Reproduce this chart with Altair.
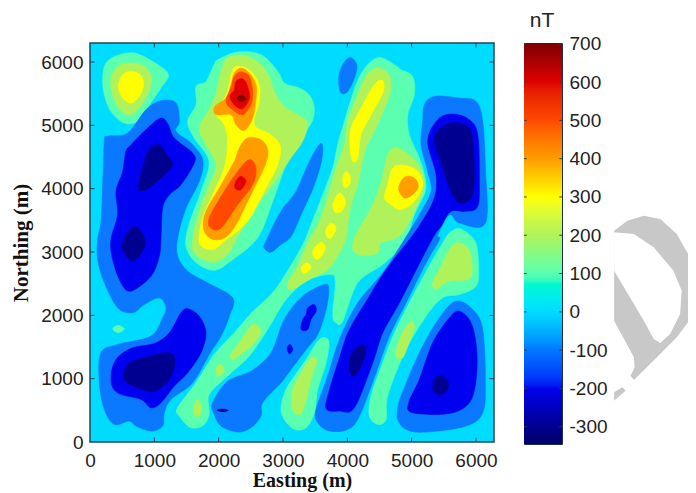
import altair as alt
import pandas as pd
import numpy as np

levels = [-300, -200, -100, 0, 100, 200, 300, 400, 500, 600, 700]
colors = ["#000090", "#0000f0", "#0a78ff", "#00dcff", "#5affb0", "#b0f25a",
          "#ffff00", "#ff9c00", "#ff4800", "#e00000", "#800000"]
x_ticks = [0, 1000, 2000, 3000, 4000, 5000, 6000]
y_ticks = [0, 1000, 2000, 3000, 4000, 5000, 6000]
bar_ticks = [-300, -200, -100, 0, 100, 200, 300, 400, 500, 600, 700]

# +100 nT contours
g_topleft = [(197,5746),(248,5983),(430,6104),(689,6141),(974,6009),(1217,5809),(1103,5588),(870,5246),(741,5062),(533,5036),(326,5220),(223,5483)]
g_central = [(1986,6035),(2297,6157),(2659,6114),(2919,5851),(3021,5668),(3255,5589),(3405,5483),(3483,5299),(3452,5062),(3250,4747),(3048,4379),(2841,3801),(2608,3228),(2219,2881),(1933,2712),(1648,2834),(1493,3091),(1539,3433),(1726,3958),(1850,4431),(1617,4805),(1519,5062),(1648,5325),(1648,5614),(1804,5693),(1928,5956)]
g_ridge = [(4291,5930),(4498,6072),(4732,5957),(4835,5878),(5016,5773),(5042,5483),(4939,5168),(4965,4852),(5120,4484),(5198,4221),(5213,3958),(5042,3590),(4887,3143),(4550,2802),(4162,2513),(3929,1908),(3825,1882),(3773,2014),(3815,2539),(3721,2645),(3359,2540),(3048,2250),(2761,1777),(2476,1356),(2139,1040),(1854,751),(1854,462),(1777,278),(1569,225),(1388,409),(1362,541),(1647,935),(1932,1382),(2243,1724),(2502,2029),(2813,2329),(3020,2618),(3307,3116),(3436,3432),(3618,3905),(3773,4326),(3851,4694),(3955,5062),(4136,5641)]
g_lobe = [(3566,1619),(3711,1593),(3670,1251),(3540,830),(3488,462),(3359,225),(3178,199),(3020,357),(2968,541),(3046,830),(3178,1040),(3359,1303)]
g_right = [(5483,3143),(5586,3300),(5742,3369),(5923,3248),(6011,3092),(6042,2724),(6001,2461),(5742,2329),(5483,2276),(5224,1987),(4887,1409),(4628,725),(4602,357),(4472,278),(4343,409),(4369,725),(4550,1251),(4732,1724),(4990,2250),(5301,2829)]
g_dot = [(352,1787),(440,1840),(533,1787),(440,1724)]

# +200 nT contours
yg_topleft = [(326,5746),(430,5930),(637,5983),(844,5930),(958,5746),(896,5483),(741,5246),(585,5168),(430,5299),(337,5536)]
yg_central = [(2139,6062),(2398,6104),(2631,5983),(2787,5773),(2864,5536),(3020,5299),(3227,5168),(3382,5036),(3305,4747),(3123,4484),(2916,4168),(2528,3642),(2269,3195),(2139,2960),(1906,2839),(1647,2960),(1595,3171),(1699,3642),(1854,4063),(1958,4379),(1803,4694),(1699,4957),(1854,5246),(1958,5510),(2036,5851)]
yg_ridge = [(4291,5772),(4447,5904),(4628,5825),(4680,5615),(4602,5325),(4421,4905),(4291,4642),(4214,4326),(4162,4063),(4058,3747),(4006,3432),(3955,3143),(3721,2750),(3411,2566),(3126,2408),(3074,2513),(3229,2776),(3385,3144),(3566,3484),(3721,3958),(3825,4326),(3955,4694),(4006,5062),(4162,5483)]
yg_blob = [(4732,4642),(4887,4589),(5120,4352),(5198,4063),(5094,3747),(4835,3274),(4524,3144),(4473,2987),(4239,2945),(4084,3039),(4136,3274),(4343,3642),(4498,4010),(4576,4326),(4628,4536)]
yg_low1 = [(2191,1382),(2321,1566),(2528,1856),(2657,1750),(2554,1566),(2346,1382),(2217,1303)]
yg_low2 = [(1958,1172),(2036,1224),(2087,1119),(1984,1040)]
yg_low3 = [(1621,567),(1673,672),(1735,541),(1699,409),(1621,435)]
yg_lobe = [(3436,1330),(3525,1277),(3436,988),(3317,514),(3229,435),(3141,541),(3152,830),(3281,1093)]
yg_right = [(5690,3144),(5871,3065),(5938,2829),(5897,2576),(5586,2540),(5379,2419),(5327,2513),(5431,2724),(5560,2987)]
yg_mid = [(4965,1882),(5042,1819),(4939,1514),(4861,1330),(4757,1356),(4809,1619)]

# +300 nT contours
y_topleft = [(440,5615),(508,5799),(637,5851),(782,5799),(834,5641),(766,5457),(637,5352),(508,5431)]
y_central = [(2217,5878),(2346,5930),(2502,5851),(2631,5641),(2631,5378),(2554,5010),(2813,4852),(2958,4668),(2916,4379),(2735,4010),(2450,3484),(2087,3171),(1906,3039),(1699,3144),(1751,3537),(1906,3905),(2087,4326),(2139,4747),(2087,5010),(1942,5194),(2036,5352),(2139,5536)]
y_blob = [(4706,4326),(4887,4368),(5094,4273),(5172,4063),(5042,3800),(4835,3669),(4680,3747),(4576,3853),(4628,4063)]
y_strip = [(4472,5694),(4560,5694),(4550,5510),(4369,5168),(4214,4852),(4162,4484),(4084,4431),(4043,4642),(4058,4957),(4214,5273),(4369,5562)]
y_s1 = [(3929,4168),(3980,4273),(4043,4194),(4032,4063),(3955,4021)]
y_s2 = [(3773,3747),(3877,3932),(3970,3800),(3929,3669),(3825,3616)]
y_s3 = [(3670,3353),(3747,3458),(3825,3379),(3747,3221),(3680,3248)]
y_s4 = [(3462,3013),(3592,3155),(3659,3065),(3592,2934),(3514,2881)]
y_s5 = [(3281,2750),(3369,2829),(3436,2750),(3333,2660)]

# +400 and above
o_upper = [(2243,5825),(2346,5904),(2476,5825),(2580,5641),(2580,5404),(2528,5115),(2398,4920),(2269,5010),(2191,5168),(1958,5168),(1942,5299),(2113,5431),(2191,5641)]
o_lower = [(2450,4799),(2657,4773),(2761,4615),(2735,4405),(2605,4116),(2424,3747),(2269,3432),(2087,3221),(1880,3211),(1761,3379),(1803,3642),(2010,4010),(2243,4431),(2321,4642)]
o_blob = [(4913,4194),(5042,4168),(5104,4037),(5016,3905),(4887,3853),(4799,3984),(4835,4116)]
or_upper = [(2243,5773),(2346,5841),(2476,5773),(2528,5536),(2502,5325),(2372,5168),(2217,5246),(2113,5378),(2191,5588)]
or_lower = [(2476,4458),(2580,4326),(2528,4063),(2295,3747),(2036,3379),(1880,3379),(1854,3537),(2087,3958),(2295,4273)]
r_upper = [(2269,5694),(2372,5736),(2440,5641),(2476,5431),(2372,5262),(2243,5325),(2175,5457),(2243,5562)]
r_lower = [(2346,4195),(2424,4116),(2346,3984),(2253,4010),(2269,4116)]
dr_upper = [(2284,5431),(2357,5483),(2424,5420),(2346,5378)]

# -100 nT contours
d_left = [(223,4747),(274,4826),(585,4878),(870,5246),(1103,5388),(1336,5352),(1388,5062),(1336,4905),(1569,4720),(1751,4458),(1699,4116),(1492,3695),(1362,3221),(1362,2934),(1518,2697),(1828,2513),(2217,2276),(2165,1987),(2036,1672),(1854,1382),(1595,935),(1259,672),(1155,462),(1129,251),(948,172),(715,251),(611,330),(378,278),(223,514),(145,935),(171,1409),(430,1540),(948,1672),(1129,1961),(1181,2119),(1077,2276),(844,2171),(663,2040),(430,2119),(223,2513),(119,2881),(119,3197),(171,3484),(197,4063)]
d_top = [(3903,5904),(4032,6072),(4146,5957),(4110,5746),(4006,5536),(3903,5510),(3866,5694)]
d_strip = [(3592,4720),(3607,4484),(3488,4063),(3281,3590),(3126,3248),(2968,3118),(2813,2997),(2709,3065),(2735,3171),(2968,3642),(3203,3958),(3411,4431)]
d_low = [(3644,2487),(3711,2408),(3670,2092),(3540,1698),(3359,1461),(3048,1040),(2968,935),(2683,620),(2657,409),(2502,225),(2295,157),(2036,251),(1922,462),(1906,620),(2139,961),(2502,1119),(2813,1409),(3020,1935),(3307,2303)]
d_right = [(5198,5325),(5353,5457),(5742,5431),(6001,5378),(6104,5062),(6146,4326),(6146,3458),(5742,3458),(5586,3590),(5405,3274),(5431,3197),(5224,2829),(4913,2198),(4654,1672),(4447,1093),(4188,409),(4006,199),(3721,173),(3540,304),(3514,514),(3695,1040),(3877,1619),(4162,2198),(4550,2671),(4887,3197),(5120,3590),(5301,3958),(5250,4273),(5146,4694),(5172,5062)]
d_lowright = [(4783,514),(4835,725),(5120,1409),(5431,1961),(5690,2224),(5949,2092),(6104,1777),(6146,935),(6104,462),(5845,251),(5224,157),(4913,199),(4783,357)]

# -200 nT contours
b_upper = [(637,4694),(896,4957),(1103,5115),(1217,5010),(1310,4799),(1595,4563),(1621,4405),(1414,4063),(1233,3905),(1129,3695),(1103,3221),(1077,2934),(948,2618),(637,2382),(482,2513),(352,2881),(326,3197),(430,3590),(404,3958),(508,4273),(559,4589)]
b_lower = [(1518,2103),(1699,1987),(1803,1724),(1725,1409),(1518,1093),(1310,883),(1103,620),(948,541),(792,672),(430,777),(326,988),(404,1303),(663,1487),(1000,1556),(1233,1724),(1414,2040)]
b_right = [(5250,4747),(5405,5089),(5638,5178),(5897,5089),(6027,4852),(6052,4168),(6027,3721),(5845,3642),(5612,3642),(5457,3405),(5301,3171),(4809,2198),(4550,1724),(4395,1251),(4110,541),(3877,488),(3680,514),(3695,725),(3903,1409),(4032,1777),(4343,2303),(4602,2724),(4965,3197),(5146,3458),(5353,3853),(5379,4221)]
b_lowright = [(4954,620),(5120,988),(5327,1566),(5586,1961),(5742,2066),(5923,1882),(6011,1461),(6001,988),(5897,620),(5586,451),(5016,462)]
b_spot1 = [(3385,2119),(3488,2171),(3514,2066),(3436,1935),(3385,1777),(3281,1777),(3307,1935),(3359,2014)]
b_spot2 = [(3064,1487),(3110,1540),(3152,1461),(3100,1393)]

# -300 nT contours
n_up1 = [(922,4615),(1077,4694),(1196,4536),(1285,4379),(1103,4168),(870,3984),(751,4010),(818,4326)]
n_up2 = [(689,3406),(834,3248),(844,3065),(663,2855),(508,3039),(533,3221)]
n_low = [(585,1225),(844,1330),(1207,1409),(1321,1277),(1233,988),(1000,804),(741,856),(533,988)]
n_right = [(5353,4799),(5534,5010),(5793,5020),(5938,4852),(5975,4168),(5923,3853),(5742,3774),(5612,3958),(5483,4326)]
n_strip = [(4188,1524),(4291,1487),(4239,1251),(4110,1040),(4032,1146),(4058,1382)]
n_lr = [(5353,988),(5457,1051),(5560,961),(5560,830),(5457,751),(5338,804)]
n_dash = [(1973,504),(2062,520),(2150,499),(2062,478)]

contours = [
    (100, g_topleft), (100, g_central), (100, g_ridge), (100, g_lobe), (100, g_right), (100, g_dot),
    (-100, d_left), (-100, d_top), (-100, d_strip), (-100, d_low), (-100, d_right), (-100, d_lowright),
    (200, yg_topleft), (200, yg_central), (200, yg_ridge), (200, yg_blob), (200, yg_low1), (200, yg_low2),
    (200, yg_low3), (200, yg_lobe), (200, yg_right), (200, yg_mid),
    (-200, b_upper), (-200, b_lower), (-200, b_right), (-200, b_lowright), (-200, b_spot1), (-200, b_spot2),
    (300, y_topleft), (300, y_central), (300, y_blob), (300, y_strip), (300, y_s1), (300, y_s2), (300, y_s3),
    (300, y_s4), (300, y_s5),
    (-300, n_up1), (-300, n_up2), (-300, n_low), (-300, n_right), (-300, n_strip), (-300, n_lr), (-300, n_dash),
    (400, o_upper), (400, o_lower), (400, o_blob),
    (500, or_upper), (500, or_lower),
    (600, r_upper), (600, r_lower),
    (700, dr_upper),
]

# watermark outlines
wm_outer = [(310,680),(350,650),(400,635),(450,645),(500,690),(540,760),(558,850),(545,940),(500,1000),(440,1060),(370,1128),(360,1115),(372,1090),(370,1060),(310,950)]
wm_hole = [(310,685),(370,690),(430,730),(490,800),(515,860),(510,930),(480,990),(450,1017),(430,1005),(400,950),(310,800)]
wm_frag = [(310,1165),(335,1150),(345,1160),(310,1190)]
watermark = [("#c8c8c8", wm_outer), ("#ffffff", wm_hole), ("#c8c8c8", wm_frag)]

rows = []
for pid, (lev, pts) in enumerate(contours):
    for i, (e, n) in enumerate(pts):
        rows.append({"poly": pid, "vertex": i, "level": lev, "e": e, "n": n})
df = pd.DataFrame(rows)

XMAX, YMAX = 6280, 6300
x_scale = alt.Scale(domain=[0, XMAX], nice=False, zero=False)
y_scale = alt.Scale(domain=[0, YMAX], nice=False, zero=False)
level_scale = alt.Scale(domain=levels, range=colors)
plain = "'' + datum.value"

base_map = alt.Chart(df).mark_line(interpolate="cardinal-closed", strokeWidth=0.6, clip=True).encode(
    x=alt.X("e:Q", scale=x_scale,
            axis=alt.Axis(values=x_ticks, title="Easting (m)", ticks=False, domain=False, grid=False,
                          labelExpr=plain, labelFlush=False,
                          labelFont="Liberation Sans", labelFontSize=19, labelColor="#222222", labelPadding=9,
                          titleFont="Liberation Serif", titleFontSize=20, titleFontWeight="bold",
                          titleColor="#111111", titlePadding=0, titleX=212)),
    y=alt.Y("n:Q", scale=y_scale,
            axis=alt.Axis(values=y_ticks, title="Northing (m)", ticks=False, domain=False, grid=False,
                          labelExpr=plain, labelFlush=False,
                          labelFont="Liberation Sans", labelFontSize=19, labelColor="#222222", labelPadding=7,
                          titleFont="Liberation Serif", titleFontSize=21, titleFontWeight="bold",
                          titleColor="#111111", titlePadding=9.5)),
    fill=alt.Fill("level:O", scale=level_scale, legend=None),
    stroke=alt.Stroke("level:O", scale=level_scale, legend=None),
    detail="poly:N",
    order="vertex:Q",
)

tick_len = 70
tick_rows = []
for t in x_ticks[1:]:
    tick_rows.append({"a": t, "a2": t, "b": 0, "b2": tick_len})
    tick_rows.append({"a": t, "a2": t, "b": YMAX - tick_len, "b2": YMAX})
for t in y_ticks[1:]:
    tick_rows.append({"a": 0, "a2": tick_len, "b": t, "b2": t})
    tick_rows.append({"a": XMAX - tick_len, "a2": XMAX, "b": t, "b2": t})
map_ticks = alt.Chart(pd.DataFrame(tick_rows)).mark_rule(color="#23404f", strokeWidth=1).encode(
    x=alt.X("a:Q", scale=x_scale), x2="a2:Q",
    y=alt.Y("b:Q", scale=y_scale), y2="b2:Q",
)

map_panel = alt.layer(base_map, map_ticks).properties(
    width=404, height=399,
    view=alt.ViewBackground(fill="#00dcff", stroke="#1f4658", strokeWidth=1.5),
)

# colour bar
BAR_LO, BAR_HI = -345, 702
edges = np.arange(BAR_LO, BAR_HI, 5)
bar_df = pd.DataFrame({"lo": edges, "hi": np.minimum(edges + 12, BAR_HI), "v": edges + 2.5, "x0": 0, "x1": 1})
bar_y = alt.Scale(domain=[BAR_LO, BAR_HI], nice=False, zero=False)
bar_x = alt.Scale(domain=[0, 1], nice=False, zero=False)
bar = alt.Chart(bar_df).mark_rect(strokeWidth=0).encode(
    x=alt.X("x0:Q", scale=bar_x, axis=None), x2="x1:Q",
    y=alt.Y("lo:Q", scale=bar_y,
            axis=alt.Axis(orient="right", values=bar_ticks, title=None, ticks=False, domain=False, grid=False,
                          labelExpr=plain,
                          labelFont="Liberation Sans", labelFontSize=19, labelColor="#222222", labelPadding=7,
                          labelFlush=False)),
    y2="hi:Q",
    fill=alt.Fill("v:Q", scale=alt.Scale(domain=levels, range=colors), legend=None),
)
bt_rows = []
for t in bar_ticks:
    bt_rows.append({"a": 0, "a2": 0.07, "b": t})
    bt_rows.append({"a": 0.93, "a2": 1, "b": t})
bar_ticks_layer = alt.Chart(pd.DataFrame(bt_rows)).mark_rule(color="#23404f", strokeWidth=1).encode(
    x=alt.X("a:Q", scale=bar_x), x2="a2:Q", y=alt.Y("b:Q", scale=bar_y),
)
unit = alt.Chart(pd.DataFrame({"t": ["nT"]})).mark_text(
    font="Liberation Sans", fontSize=21, color="#222222", align="center", baseline="alphabetic"
).encode(text="t:N", x=alt.value(18), y=alt.value(-16))
bar_panel = alt.layer(bar, bar_ticks_layer, unit).properties(
    width=38, height=401,
    view=alt.ViewBackground(stroke="#1f2f4f", strokeWidth=1),
)

# watermark panel
wm_rows = []
for pid, (col, pts) in enumerate(watermark):
    for i, (a, b) in enumerate(pts):
        wm_rows.append({"poly": pid, "vertex": i, "col": col, "a": a, "b": b})
wm = alt.Chart(pd.DataFrame(wm_rows)).mark_line(strokeWidth=0, clip=True).encode(
    x=alt.X("a:Q", scale=alt.Scale(domain=[243, 534], nice=False, zero=False), axis=None),
    y=alt.Y("b:Q", scale=alt.Scale(domain=[1320, 117], nice=False, zero=False), axis=None),
    fill=alt.Fill("col:N", scale=None, legend=None),
    detail="poly:N",
    order="vertex:Q",
).properties(width=96, height=401, view=alt.ViewBackground(stroke=None))

chart = alt.hconcat(map_panel, bar_panel, wm, spacing=30, bounds="flush").resolve_scale(
    fill="independent", stroke="independent", x="independent", y="independent"
).properties(
    padding={"left": 1, "right": 0, "top": 1, "bottom": 5},
    background="white",
)
chart.save("out.html", embed_options={"renderer": "svg", "actions": False})
